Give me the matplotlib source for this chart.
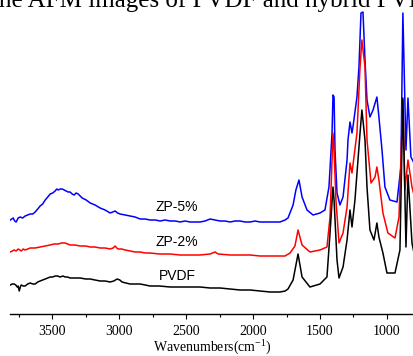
import numpy as np
import matplotlib
matplotlib.use('Agg')
import matplotlib.pyplot as plt
from matplotlib.ticker import MultipleLocator

plt.rcParams['font.family'] = 'Liberation Serif'
plt.rcParams['mathtext.default'] = 'regular'

# FTIR spectra (offset a.u.)
wn_zp5 = [3813, 3802, 3791, 3780, 3769, 3754, 3739, 3720, 3702, 3683, 3664, 3645, 3627, 3608,
          3590, 3571, 3552, 3533, 3515, 3496, 3478, 3466, 3455, 3440, 3425, 3410, 3396, 3381,
          3366, 3351, 3336, 3321, 3306, 3291, 3276, 3246, 3216, 3180, 3142, 3105, 3067, 3048,
          3030, 3012, 2993, 2955, 2918, 2881, 2843, 2806, 2769, 2730, 2694, 2656, 2619, 2580,
          2545, 2508, 2470, 2433, 2396, 2358, 2321, 2284, 2246, 2209, 2172, 2134, 2097, 2060,
          2022, 1985, 1948, 1910, 1873, 1836, 1799, 1761, 1739, 1701, 1680, 1657, 1634, 1597,
          1552, 1500, 1463, 1433, 1410, 1403, 1395, 1388, 1373, 1351, 1328, 1298, 1291, 1276,
          1261, 1254, 1224, 1209, 1194, 1179, 1164, 1149, 1127, 1104, 1075, 1060, 1037, 1015,
          978, 925, 896, 881, 858, 843, 821, 798]
a_zp5 = [0.94, 0.95, 0.96, 0.93, 0.92, 0.96, 0.97, 0.96, 0.98, 0.99, 1.00, 1.00, 1.02, 1.05,
         1.08, 1.10, 1.14, 1.17, 1.20, 1.21, 1.23, 1.25, 1.24, 1.25, 1.25, 1.24, 1.23, 1.22,
         1.22, 1.20, 1.19, 1.21, 1.20, 1.18, 1.16, 1.14, 1.11, 1.09, 1.06, 1.04, 1.01, 1.02,
         1.03, 1.01, 1.00, 0.99, 0.98, 0.97, 0.95, 0.95, 0.94, 0.94, 0.93, 0.94, 0.93, 0.93,
         0.92, 0.93, 0.92, 0.92, 0.92, 0.93, 0.95, 0.94, 0.93, 0.93, 0.92, 0.93, 0.93, 0.92,
         0.92, 0.93, 0.92, 0.92, 0.92, 0.92, 0.92, 0.94, 0.96, 1.09, 1.24, 1.34, 1.17, 1.04,
         0.99, 1.01, 1.04, 1.27, 1.81, 2.19, 2.17, 1.64, 1.21, 1.09, 1.17, 1.54, 1.74, 1.92,
         1.81, 1.87, 2.17, 2.47, 3.01, 3.02, 2.54, 2.14, 1.97, 2.04, 2.17, 1.97, 1.64, 1.27,
         1.14, 1.12, 1.47, 3.01, 1.64, 2.16, 1.57, 1.51]

wn_zp2 = [3813, 3798, 3784, 3769, 3754, 3742, 3731, 3716, 3702, 3683, 3664, 3627, 3590, 3552,
          3515, 3485, 3455, 3430, 3403, 3385, 3366, 3330, 3291, 3250, 3216, 3180, 3142, 3105,
          3067, 3045, 3030, 3018, 3007, 2980, 2955, 2918, 2881, 2843, 2806, 2769, 2700, 2619,
          2545, 2470, 2396, 2321, 2284, 2260, 2172, 2097, 2022, 1948, 1873, 1799, 1761, 1724,
          1687, 1664, 1634, 1575, 1500, 1448, 1425, 1403, 1395, 1381, 1358, 1328, 1298, 1276,
          1261, 1224, 1201, 1187, 1164, 1149, 1119, 1089, 1075, 1060, 1030, 993, 940, 910,
          881, 866, 843, 813, 798]
a_zp2 = [0.62, 0.63, 0.64, 0.63, 0.65, 0.64, 0.63, 0.65, 0.64, 0.65, 0.66, 0.66, 0.67, 0.68,
         0.69, 0.70, 0.70, 0.71, 0.71, 0.70, 0.69, 0.69, 0.68, 0.68, 0.67, 0.67, 0.66, 0.66,
         0.65, 0.66, 0.68, 0.66, 0.65, 0.65, 0.64, 0.63, 0.62, 0.62, 0.61, 0.61, 0.60, 0.60,
         0.59, 0.59, 0.59, 0.60, 0.62, 0.60, 0.59, 0.59, 0.59, 0.58, 0.58, 0.58, 0.58, 0.61,
         0.68, 0.84, 0.69, 0.62, 0.64, 0.67, 0.97, 1.81, 1.64, 1.14, 0.71, 0.81, 1.07, 1.51,
         1.41, 1.81, 2.47, 2.74, 2.47, 1.74, 1.31, 1.37, 1.47, 1.34, 1.01, 0.81, 0.76, 0.97,
         2.14, 1.24, 1.54, 1.27, 1.19]

wn_pvdf = [3813, 3798, 3784, 3772, 3761, 3754, 3746, 3738, 3731, 3716, 3702, 3683, 3664, 3645,
           3627, 3608, 3590, 3571, 3552, 3533, 3515, 3496, 3478, 3460, 3440, 3420, 3403, 3385,
           3366, 3330, 3291, 3250, 3216, 3180, 3142, 3105, 3067, 3040, 3015, 2995, 2978, 2950,
           2918, 2881, 2843, 2806, 2769, 2700, 2619, 2545, 2470, 2396, 2321, 2246, 2172, 2097,
           2022, 1948, 1873, 1836, 1799, 1760, 1739, 1701, 1664, 1634, 1575, 1500, 1448, 1425,
           1403, 1395, 1373, 1358, 1328, 1298, 1276, 1261, 1239, 1201, 1187, 1164, 1149, 1127,
           1097, 1075, 1060, 1030, 1000, 940, 903, 881, 858, 843, 813, 798]
a_pvdf = [0.29, 0.30, 0.30, 0.29, 0.27, 0.28, 0.23, 0.27, 0.29, 0.28, 0.28, 0.30, 0.31, 0.30,
          0.30, 0.32, 0.33, 0.34, 0.35, 0.36, 0.37, 0.37, 0.38, 0.38, 0.37, 0.38, 0.37, 0.37,
          0.36, 0.36, 0.36, 0.35, 0.35, 0.34, 0.33, 0.33, 0.32, 0.33, 0.35, 0.34, 0.32, 0.31,
          0.30, 0.30, 0.30, 0.29, 0.28, 0.28, 0.27, 0.27, 0.27, 0.27, 0.26, 0.26, 0.25, 0.24,
          0.24, 0.23, 0.22, 0.22, 0.22, 0.23, 0.25, 0.34, 0.60, 0.37, 0.27, 0.30, 0.37, 0.81,
          1.27, 1.14, 0.54, 0.36, 0.47, 0.74, 1.04, 0.87, 1.14, 1.81, 2.04, 1.74, 1.27, 0.84,
          0.74, 0.91, 0.77, 0.61, 0.41, 0.41, 0.64, 2.16, 0.67, 1.39, 0.71, 0.61]

names = ['ZP-5%', 'ZP-2%', 'PVDF']
label_y = [1.07, 0.72, 0.38]

fig = plt.figure(figsize=(4.14, 3.56), dpi=100)
ax = fig.add_axes([10/414, 42/356, 1 - 10/414, 314/356])

ax.plot(wn_zp5, a_zp5, color='#0000ff', lw=1.1)
ax.plot(wn_zp2, a_zp2, color='#ff0000', lw=1.1)
ax.plot(wn_pvdf, a_pvdf, color='black', lw=1.1)

for n, yy in zip(names, label_y):
    ax.text(2568, yy, n, ha='center', va='center', fontsize=10, family='Liberation Sans')

ax.set_xlim(3815, 798)
ax.set_ylim(0, 3.14)
ax.xaxis.set_major_locator(MultipleLocator(500))
ax.xaxis.set_minor_locator(MultipleLocator(250))
ax.tick_params(axis='x', which='major', direction='out', length=3.6, width=0.8, labelsize=10, pad=4)
ax.tick_params(axis='x', which='minor', direction='out', length=2.2, width=0.8)
ax.set_yticks([])
for s in ['left', 'right', 'top']:
    ax.spines[s].set_visible(False)
ax.spines['bottom'].set_linewidth(1.0)
ax.set_xlabel('Wavenumbers(cm$^{-1}$)', fontsize=10, labelpad=1.2)

# caption line cut off above the figure
fig.text(-0.02, 1 - 7/356, 'the AFM images of PVDF and hybrid PVDF', fontsize=18,
         va='baseline', ha='left')

fig.savefig('out.png', dpi=100)
plt.close()
